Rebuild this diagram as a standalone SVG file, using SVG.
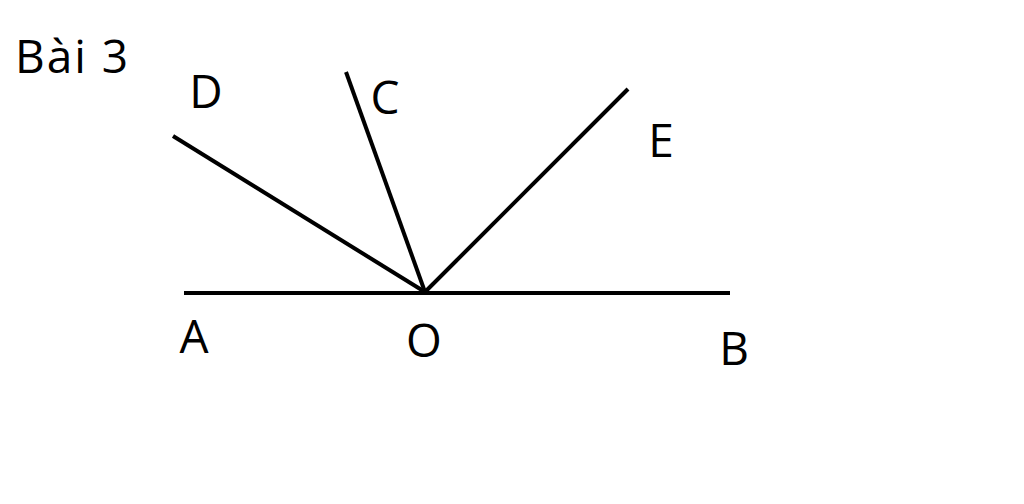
<svg xmlns="http://www.w3.org/2000/svg" width="1024" height="504" viewBox="0 0 1024 504">
<style>
.ln{stroke:#000;stroke-width:4;stroke-linecap:butt;fill:none}
.lb{font-family:"Open Sans","Liberation Sans",sans-serif;font-size:46px;fill:#000;text-anchor:middle}
</style>
<rect width="1024" height="504" fill="#fff"/>
<text x="15" y="73" class="lb" style="text-anchor:start;font-size:46px;letter-spacing:2px">Bài 3</text>
<g id="connectors">
<line class="ln" x1="184" y1="293" x2="730" y2="293"/>
<line class="ln" x1="425" y1="292" x2="173" y2="136"/>
<line class="ln" x1="425" y1="292" x2="346" y2="72"/>
<line class="ln" x1="425" y1="292" x2="628" y2="89"/>
</g>
<g id="D"><text class="lb" x="206" y="108">D</text></g>
<g id="C"><text class="lb" x="385" y="114">C</text></g>
<g id="E"><text class="lb" x="661" y="157">E</text></g>
<g id="A"><text class="lb" x="194" y="353">A</text></g>
<g id="O"><text class="lb" x="424" y="357">O</text></g>
<g id="B"><text class="lb" x="734" y="365">B</text></g>
</svg>
